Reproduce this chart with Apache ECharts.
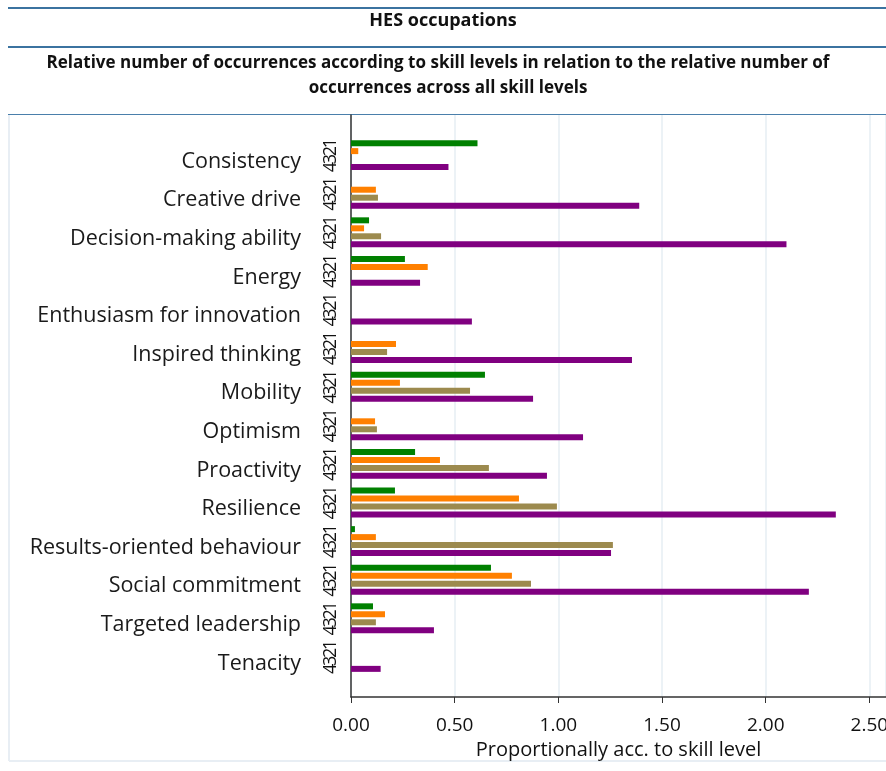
<!DOCTYPE html>
<html>
<head>
<meta charset="utf-8">
<script src="https://cdn.jsdelivr.net/npm/echarts@6/dist/echarts.min.js"></script>
<style>
html,body{margin:0;padding:0;background:#fff;}
#chart{width:886px;height:771px;}
</style>
</head>
<body>
<div id="chart"></div>
<script>
const categories = ["Consistency","Creative drive","Decision-making ability","Energy","Enthusiasm for innovation","Inspired thinking","Mobility","Optimism","Proactivity","Resilience","Results-oriented behaviour","Social commitment","Targeted leadership","Tenacity"];
const levelNames = ["1","2","3","4"];
const level1 = [0.61,0,0.087,0.26,0,0,0.646,0,0.309,0.212,0.019,0.675,0.106,0];
const level2 = [0.035,0.12,0.063,0.37,0,0.217,0.236,0.116,0.429,0.81,0.12,0.776,0.164,0];
const level3 = [0,0.13,0.145,0,0,0.174,0.574,0.125,0.665,0.993,1.263,0.868,0.12,0];
const level4 = [0.47,1.39,2.10,0.333,0.583,1.355,0.878,1.119,0.945,2.338,1.254,2.208,0.40,0.143];
const xTicks = [0,0.5,1,1.5,2,2.5];
const colors = ["#008000","#ff8000","#9c8a4e","#800080"];

const FONT = "Open Sans";
const chart = echarts.init(document.getElementById('chart'), null, {renderer:'canvas'});
const levels = [level1, level2, level3, level4];
const series = levels.map((vals, i) => ({
  type: 'bar',
  name: levelNames[i],
  xAxisIndex: 0, yAxisIndex: 0,
  data: vals,
  barWidth: 6,
  barGap: '33%',
  itemStyle: {color: colors[i]},
  label: {
    show: true, position: 'left', distance: 20, rotate: 90,
    align: 'center', verticalAlign: 'middle',
    formatter: () => levelNames[i],
    fontFamily: FONT, fontSize: 18, color: '#111'
  },
  emphasis: {disabled: true},
  z: 3
}));

const XMAX = 2.58;
chart.setOption({
  backgroundColor: '#fff',
  animation: false,
  graphic: [
    {type: 'line', shape: {x1: 8, y1: 8, x2: 886, y2: 8}, style: {stroke: '#3b73a0', lineWidth: 2}},
    {type: 'line', shape: {x1: 8, y1: 47, x2: 886, y2: 47}, style: {stroke: '#3b73a0', lineWidth: 2}},
    {type: 'line', shape: {x1: 8, y1: 114.5, x2: 886, y2: 114.5}, style: {stroke: '#4a7fab', lineWidth: 1}},
    {type: 'line', shape: {x1: 9, y1: 115, x2: 9, y2: 761}, style: {stroke: '#e8eef4', lineWidth: 2}},
    {type: 'line', shape: {x1: 9, y1: 761, x2: 886, y2: 761}, style: {stroke: '#e8eef4', lineWidth: 2}},
    {type: 'text', x: 443, y: 21, style: {text: 'HES occupations', align: 'center', verticalAlign: 'middle',
      font: 'bold 18px "Open Sans"', fill: '#111'}},
    {type: 'text', x: 438, y: 63, style: {text: 'Relative number of occurrences according to skill levels in relation to the relative number of', align: 'center', verticalAlign: 'middle',
      font: 'bold 17px "Open Sans"', fill: '#111'}},
    {type: 'text', x: 448, y: 88, style: {text: 'occurrences across all skill levels', align: 'center', verticalAlign: 'middle',
      font: 'bold 17px "Open Sans"', fill: '#111'}}
  ],
  grid: [
    {left: 351, right: 0, top: 135.8, height: 540.4, outerBoundsMode: 'none'},
    {left: 351, right: 0, top: 115, bottom: 74, outerBoundsMode: 'none'}
  ],
  xAxis: [
    {type: 'value', gridIndex: 0, min: 0, max: XMAX, interval: 0.5, show: false},
    {type: 'value', gridIndex: 1, min: 0, max: XMAX, interval: 0.5,
     name: 'Proportionally acc. to skill level', nameLocation: 'middle', nameGap: 43,
     nameTextStyle: {fontFamily: FONT, fontSize: 20, color: '#111'},
     axisLine: {show: true, onZero: false, lineStyle: {color: '#333', width: 1.5}},
     axisTick: {show: true, length: 6, lineStyle: {color: '#333'}},
     axisLabel: {fontFamily: FONT, fontSize: 19, color: '#111', margin: 19, showMaxLabel: false,
       formatter: v => (xTicks.indexOf(v) >= 0 ? v.toFixed(2) : '')},
     splitLine: {show: true, lineStyle: {color: '#e6eef3', width: 1.5}}}
  ],
  yAxis: [
    {type: 'category', gridIndex: 0, data: categories, inverse: true,
     axisLine: {show: false}, axisTick: {show: false},
     axisLabel: {fontFamily: FONT, fontSize: 21.5, color: '#1a1a1a', margin: 50,
       verticalAlign: 'top', lineHeight: 13}},
    {type: 'value', gridIndex: 1, min: 0, max: 1,
     axisLine: {show: true, lineStyle: {color: '#333', width: 1.5}},
     axisTick: {show: false}, axisLabel: {show: false}, splitLine: {show: false}}
  ],
  series: series
});
</script>
</body>
</html>
